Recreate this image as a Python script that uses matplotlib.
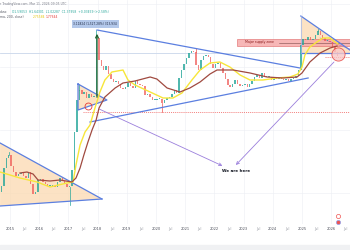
import numpy as np
import pandas as pd
import matplotlib.pyplot as plt
from matplotlib.patches import Polygon, Rectangle

# monthly closes Aug 2014 - Mar 2026, chart level (price scale is cropped off)
closes = [30, 36, 54, 64, 67, 56, 50, 46, 48, 49,
          46, 44, 50, 38, 28, 30, 42, 43, 40, 38,
          36, 36, 36, 35, 40, 44, 41, 38, 35, 36,
          52, 90, 122, 132, 128, 130, 124, 128, 125, 126,
          184, 162, 156, 152, 156, 148, 143, 140, 141, 138,
          134, 133, 135, 139, 136, 134, 141, 138, 137, 136,
          127, 128, 125, 122, 122, 123, 123, 119, 122, 124,
          125, 128, 132, 129, 144, 152, 158, 164, 169, 171,
          170, 157, 152, 162, 166, 167, 165, 158, 154, 158,
          159, 154, 149, 143, 137, 135, 138, 142, 138, 136,
          137, 138, 135, 138, 141, 145, 147, 144, 149, 145,
          145, 145, 142, 145, 143, 144, 143, 142, 143, 141,
          143, 144, 146, 152, 177, 183, 182, 185, 182, 183,
          187, 191, 187, 184, 181, 181, 180, 175, 170, 166]

# notable wicks
spike_months = ["2014-12", "2017-01", "2017-05", "2017-12", "2020-03", "2021-05", "2025-07"]
spike_levels = [70, 17, 138, 192, 110, 174, 193]

# moving averages
ma_fast_x = [2014.66, 2015.34, 2015.93, 2016.37, 2016.95, 2017.16, 2017.26, 2017.40, 2017.57, 2017.74,
             2017.91, 2018.08, 2018.25, 2018.49, 2018.87, 2019.04, 2019.28, 2019.80, 2020.24, 2020.58,
             2020.89, 2021.23, 2021.51, 2021.85, 2022.19, 2022.53, 2022.88, 2023.22, 2023.66, 2024.14,
             2024.59, 2024.86, 2025.00, 2025.10, 2025.27, 2025.51, 2025.72, 2025.96, 2026.13, 2026.23]
ma_fast_y = [50, 44, 40, 35, 39, 40, 57, 77, 90, 97,
             114, 130, 142, 150, 152, 142, 137, 130, 124, 124,
             129, 142, 152, 159, 160, 155, 147, 142, 142, 144,
             145, 148, 155, 167, 175, 180, 184, 184, 180, 178]
ma_slow_x = [2015.34, 2015.58, 2015.79, 2015.96, 2016.37, 2016.71, 2017.12, 2017.26, 2017.40, 2017.53,
             2017.67, 2017.81, 2017.95, 2018.05, 2018.25, 2018.60, 2018.87, 2019.28, 2019.80, 2020.03,
             2020.38, 2020.82, 2021.16, 2021.51, 2021.85, 2022.09, 2022.64, 2023.22, 2023.80, 2024.35,
             2024.83, 2025.00, 2025.27, 2025.62, 2025.96, 2026.20]
ma_slow_y = [49, 50, 48, 42, 41, 42, 40, 44, 54, 67,
             80, 92, 102, 114, 125, 134, 139, 141, 145, 143,
             134, 130, 134, 140, 148, 152, 152, 149, 145, 144,
             145, 149, 160, 169, 174, 176]

years = list(range(2015, 2027))

months = pd.date_range("2014-08-01", periods=len(closes), freq="MS")
dates = np.array(months.year + (months.month - 1) / 12) + 1 / 24
closes = np.array(closes, dtype=float)
opens = np.r_[closes[0], closes[:-1]]

fig = plt.figure(figsize=(3.5, 2.5), dpi=100)
ax = fig.add_axes([0, 0.104, 1, 0.896])
ax.set_xlim(2014.658, 2026.644)
ax.set_ylim(-2, 222)

# faint grid
for y in [218, 155, 92, 29]:
    ax.axhline(y, color="#eceef3", lw=0.4, zorder=0)
for yr in years:
    ax.axvline(yr, color="#eceef3", lw=0.4, zorder=0)

# triangles
tri1 = [(2014.66, 79), (2018.15, 23), (2014.66, 16)]
tri2 = [(2017.33, 138), (2018.32, 122), (2017.33, 112)]
tri4 = [(2024.96, 206), (2026.64, 172), (2026.64, 169), (2024.96, 169)]
for pts in [tri1, tri2, tri4]:
    ax.add_patch(Polygon(pts, closed=True, fc="#fcd9b0", ec="none", alpha=0.75, zorder=1))
blue = "#5b7fe0"
ax.plot([2014.66, 2018.15], [79, 23], color=blue, lw=0.9, zorder=4)
ax.plot([2014.66, 2018.15], [16, 23], color=blue, lw=0.9, zorder=4)
ax.plot([2017.33, 2018.32, 2017.33, 2017.33], [138, 122, 112, 138], color=blue, lw=0.9, zorder=4)
ax.plot([2017.98, 2024.93], [192, 154], color=blue, lw=0.9, zorder=4)
ax.plot([2017.74, 2025.21], [100, 144], color=blue, lw=0.9, zorder=4)
ax.plot([2024.96, 2026.64], [206, 172], color=blue, lw=0.9, zorder=4)
ax.plot([2024.96, 2026.64], [169, 169], color=blue, lw=0.9, zorder=4)
ax.plot([2024.96, 2024.96], [169, 206], color="#9fb6ee", lw=0.5, zorder=4)

# horizontal levels
ax.axhline(169, color="#c9d6ea", lw=0.6, zorder=1)
ax.plot([2017.5, 2026.64], [110, 110], color="#ef5350", lw=0.5, ls=(0, (1.5, 1.5)), zorder=1)
ax.plot([2025.79, 2026.64], [165, 165], color="#ef5350", lw=0.5, ls=(0, (1.5, 1.5)), zorder=1)

# supply zone
ax.add_patch(Rectangle((2022.77, 176), 4.0, 7, fc="#f6a5a5", ec="#e06666", lw=0.5, alpha=0.8, zorder=2))
ax.plot([2024.2, 2026.64], [179, 179], color="#7a4a4a", lw=0.4, zorder=3)
ax.text(2023.05, 179.5, "Major supply zone", fontsize=2.3, color="#8b1a1a", va="center", zorder=6)
ax.plot([2025.62, 2026.64], [184, 173], color="#c77bb0", lw=0.5, zorder=3)

# candles
up = closes >= opens
body = np.where(np.abs(closes - opens) < 0.8, 0.8, closes - opens)
ax.bar(dates[up], body[up], bottom=opens[up], width=0.05, color="#26a69a", alpha=0.8, zorder=3)
ax.bar(dates[~up], body[~up], bottom=opens[~up], width=0.05, color="#ef5350", alpha=0.7, zorder=3)
for m, lvl in zip(spike_months, spike_levels):
    i = months.get_loc(pd.Timestamp(m + "-01"))
    base = max(opens[i], closes[i]) if lvl > closes[i] else min(opens[i], closes[i])
    ax.plot([dates[i], dates[i]], [base, lvl], color="#26a69a" if up[i] else "#ef5350", lw=0.5, zorder=3)

# moving averages
ax.plot(ma_fast_x, ma_fast_y, color="#f7e63a", lw=1.0, zorder=5)
ax.plot(ma_slow_x, ma_slow_y, color="#a04a40", lw=0.9, zorder=5)

# measure arrow + label
ax.annotate("", xy=(2017.98, 191), xytext=(2017.98, 122),
            arrowprops=dict(arrowstyle="->", color="#1e5e2a", lw=0.9, mutation_scale=5), zorder=6)
ax.text(2017.92, 198, "3.11824 (1,527.28%) 313,934", fontsize=2.1, color="#1f2a44",
        ha="center", va="center", zorder=7,
        bbox=dict(boxstyle="square,pad=0.6", fc="#b3c8ea", ec="none"))

# circles
ax.plot([2026.23], [168], "o", ms=9.5, mfc="#f8c8c8", mec="#e53935", mew=0.6, alpha=0.8, zorder=6)
ax.plot([2017.67], [116], "o", ms=5, mfc="none", mec="#e53935", mew=0.6, zorder=6)

# arrows to "We are here"
purple = "#9b7fdc"
ax.annotate("", xy=(2022.36, 55), xytext=(2017.98, 114),
            arrowprops=dict(arrowstyle="->", color=purple, lw=0.6, mutation_scale=5))
ax.annotate("", xy=(2022.67, 55), xytext=(2026.16, 162),
            arrowprops=dict(arrowstyle="->", color=purple, lw=0.6, mutation_scale=5))
ax.text(2022.74, 51, "We are here", fontsize=3, weight="bold", color="#131722", ha="center", va="center")

# small flag icons bottom right
ax.plot([2026.23], [6], "o", ms=3, mfc="white", mec="#ef5350", mew=0.5)
ax.plot([2026.23], [0], "o", ms=3, mfc="#ef5350", mec="#90a4f0", mew=0.5)

# x axis
ticks, labels = [], []
for yr in years:
    ticks += [yr, yr + 0.5]
    labels += [str(yr), "Jul"]
ax.set_xticks(ticks)
ax.set_xticklabels(labels)
for lab in ax.get_xticklabels():
    lab.set_fontsize(2.6)
    lab.set_color("#50535e" if lab.get_text() != "Jul" else "#9598a1")
ax.tick_params(axis="x", length=0, pad=2.5)
ax.set_yticks([])
for s in ax.spines.values():
    s.set_visible(False)

# header text
fig.text(0.0, 0.984, "r TradingView.com, Mar 11, 2026 09:05 UTC", fontsize=2.2, color="#787b86", va="center")
fig.text(0.0, 0.952, "dano", fontsize=2.2, color="#50535e", va="center")
fig.text(0.034, 0.952, "O1.59053  H1.64301  L1.02287  C1.37958  +0.03459 (+2.58%)",
         fontsize=2.2, color="#26a69a", va="center")
fig.text(0.0, 0.934, "ma, 200, close)", fontsize=2.2, color="#50535e", va="center")
fig.text(0.095, 0.934, "2.75584", fontsize=2.2, color="#e6c400", va="center")
fig.text(0.13, 0.934, "1.77644", fontsize=2.2, color="#e53935", va="center")

fig.add_artist(Rectangle((0, 0), 1, 0.02, transform=fig.transFigure, color="#f0f1f3"))

fig.savefig("out.png", dpi=100)
